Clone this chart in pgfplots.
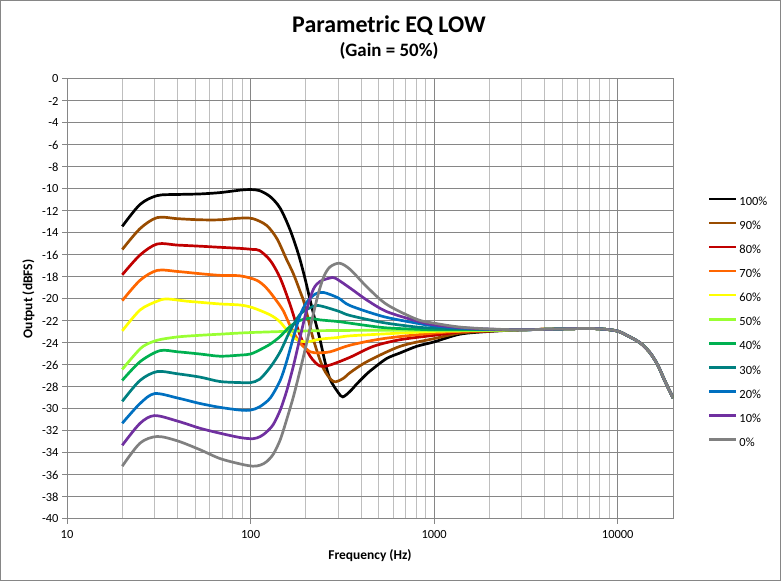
\documentclass[border=0pt]{standalone}
\usepackage{fontspec}
\setmainfont{Carlito}
\usepackage{pgfplots}
\pgfplotsset{compat=1.18}
\definecolor{gridmaj}{RGB}{134,134,134}
\definecolor{gridmin}{RGB}{190,190,190}
\definecolor{c100}{RGB}{0,0,0}
\definecolor{c90}{RGB}{153,76,0}
\definecolor{c80}{RGB}{192,0,0}
\definecolor{c70}{RGB}{255,102,0}
\definecolor{c60}{RGB}{255,255,0}
\definecolor{c50}{RGB}{153,255,51}
\definecolor{c40}{RGB}{0,176,80}
\definecolor{c30}{RGB}{0,128,128}
\definecolor{c20}{RGB}{0,112,192}
\definecolor{c10}{RGB}{112,48,160}
\definecolor{c0}{RGB}{128,128,128}
\begin{document}
\begin{tikzpicture}[x=1bp,y=1bp]
\useasboundingbox (0,0) rectangle (781,581);
\draw[draw=gridmaj, line width=1bp] (0.5,0.5) rectangle (780.5,580.5);
\node[anchor=base, font=\bfseries\fontsize{24}{28}\selectfont] at (389,548) {Parametric EQ LOW};
\node[anchor=base, font=\bfseries\fontsize{19}{22}\selectfont] at (389,524) {(Gain = 50\%)};
\node[anchor=base, font=\bfseries\fontsize{13.5}{16}\selectfont] at (370,21) {Frequency (Hz)};
\node[rotate=90, font=\bfseries\fontsize{13.5}{16}\selectfont] at (28.5,282) {Output (dBFS)};
\begin{axis}[
  at={(67bp,62bp)}, anchor=south west,
  scale only axis, width=606bp, height=440bp,
  xmode=log, xmin=10, xmax=20000, ymin=-40, ymax=0,
  axis line style={draw=gridmaj, line width=1bp, -},
  grid=both,
  major grid style={draw=gridmaj, line width=1bp},
  minor grid style={draw=gridmin, line width=1bp},
  xtick={10,100,1000,10000}, xticklabels={10,100,1000,10000},
  minor xtick={20,30,40,50,60,70,80,90,200,300,400,500,600,700,800,900,2000,3000,4000,5000,6000,7000,8000,9000,20000},
  ytick={-40,-38,-36,-34,-32,-30,-28,-26,-24,-22,-20,-18,-16,-14,-12,-10,-8,-6,-4,-2,0},
  yticklabels={-40,-38,-36,-34,-32,-30,-28,-26,-24,-22,-20,-18,-16,-14,-12,-10,-8,-6,-4,-2,0},
  xtick pos=left, ytick pos=left,
  tick align=outside, major tick length=5bp, minor tick length=0pt,
  every tick/.style={draw=gridmaj, line width=1bp},
  tick label style={font=\fontsize{12.5}{15}\selectfont, text=black},
  xticklabel style={yshift=-3bp},
  every axis plot/.append style={line width=2.7bp, smooth, no markers},
  legend cell align=left,
  legend style={at={(1.0573,0.746)}, anchor=north west, draw=none, fill=none,
    inner sep=0pt, outer sep=0pt, row sep=0pt, font=\fontsize{12.5}{15}\selectfont,
    nodes={inner sep=0pt, text height=15bp, text depth=9.04bp},
    /tikz/every odd column/.append style={column sep=2bp}},
  legend image code/.code={\draw[#1] (0bp,3.8bp) -- (27bp,3.8bp);},
]
\addplot[c100] coordinates {(20,-13.4) (25,-11.4) (31,-10.6) (40,-10.5) (53,-10.45) (68,-10.33) (88,-10.1) (100,-10.05) (112,-10.15) (128,-10.7) (145,-11.75) (164,-13.7) (182,-15.9) (197,-18.0) (211,-20.1) (225,-22.0) (239,-23.7) (255,-25.8) (271,-27.3) (300,-28.5) (318,-28.9) (348,-28.4) (380,-27.7) (430,-26.8) (467,-26.3) (552,-25.4) (653,-24.9) (804,-24.3) (1000,-23.9) (1380,-23.2) (2000,-22.95) (3000,-22.8) (5000,-22.72) (7000,-22.68) (8500,-22.75) (10000,-22.92) (11200,-23.3) (13270,-24.0) (15000,-24.9) (16500,-26.0) (18000,-27.4) (20000,-29.0)};
\addlegendentry{100\%}
\addplot[c90] coordinates {(20,-15.5) (25,-13.6) (31,-12.6) (40,-12.7) (53,-12.8) (68,-12.8) (88,-12.65) (103,-12.7) (122,-13.3) (139,-14.5) (157,-16.4) (171,-17.7) (186,-19.3) (197,-20.5) (220,-23.7) (249,-26.3) (283,-27.5) (321,-27.2) (348,-26.7) (430,-25.7) (653,-24.3) (1000,-23.6) (1380,-23.1) (2000,-22.92) (3000,-22.8) (5000,-22.72) (7000,-22.68) (8500,-22.75) (10000,-22.92) (11200,-23.3) (13270,-24.0) (15000,-24.9) (16500,-26.0) (18000,-27.4) (20000,-29.0)};
\addlegendentry{90\%}
\addplot[c80] coordinates {(20,-17.8) (25,-16.0) (31,-15.0) (40,-15.1) (53,-15.2) (68,-15.3) (88,-15.4) (103,-15.5) (112,-15.6) (128,-16.5) (145,-18.1) (164,-20.5) (186,-23.3) (211,-25.2) (239,-26.1) (271,-26.0) (348,-25.3) (467,-24.3) (653,-23.7) (1000,-23.3) (1380,-23.0) (2000,-22.9) (3000,-22.8) (5000,-22.72) (7000,-22.68) (8500,-22.75) (10000,-22.92) (11200,-23.3) (13270,-24.0) (15000,-24.9) (16500,-26.0) (18000,-27.4) (20000,-29.0)};
\addlegendentry{80\%}
\addplot[c70] coordinates {(20,-20.15) (25,-18.3) (31,-17.4) (40,-17.5) (53,-17.7) (68,-17.85) (88,-17.9) (108,-18.3) (122,-19.0) (139,-20.2) (151,-21.1) (164,-22.4) (186,-24.0) (211,-24.8) (225,-24.9) (271,-24.8) (348,-24.2) (529,-23.6) (1000,-23.1) (1380,-22.95) (2000,-22.88) (3000,-22.8) (5000,-22.72) (7000,-22.68) (8500,-22.75) (10000,-22.92) (11200,-23.3) (13270,-24.0) (15000,-24.9) (16500,-26.0) (18000,-27.4) (20000,-29.0)};
\addlegendentry{70\%}
\addplot[c60] coordinates {(20,-22.9) (25,-21.0) (31,-20.2) (35,-20.0) (45,-20.2) (53,-20.3) (68,-20.45) (88,-20.55) (103,-20.8) (128,-21.45) (145,-22.1) (164,-23.2) (179,-23.7) (202,-23.9) (239,-23.65) (300,-23.5) (348,-23.35) (653,-23.1) (1000,-22.95) (1380,-22.9) (2000,-22.86) (3000,-22.8) (5000,-22.72) (7000,-22.68) (8500,-22.75) (10000,-22.92) (11200,-23.3) (13270,-24.0) (15000,-24.9) (16500,-26.0) (18000,-27.4) (20000,-29.0)};
\addlegendentry{60\%}
\addplot[c50] coordinates {(20,-26.4) (23,-25.2) (26,-24.3) (31,-23.75) (40,-23.45) (53,-23.3) (68,-23.2) (100,-23.05) (200,-22.9) (400,-22.85) (1000,-22.85) (2000,-22.84) (3000,-22.8) (5000,-22.72) (7000,-22.68) (8500,-22.75) (10000,-22.92) (11200,-23.3) (13270,-24.0) (15000,-24.9) (16500,-26.0) (18000,-27.4) (20000,-29.0)};
\addlegendentry{50\%}
\addplot[c40] coordinates {(20,-27.4) (25,-25.7) (32,-24.7) (40,-24.8) (53,-25.0) (68,-25.2) (88,-25.1) (100,-25.0) (113,-24.6) (128,-24.1) (145,-23.4) (164,-22.5) (186,-21.95) (211,-21.75) (239,-21.9) (300,-22.05) (348,-22.2) (529,-22.6) (804,-22.75) (1000,-22.8) (1380,-22.8) (2000,-22.8) (3000,-22.8) (5000,-22.72) (7000,-22.68) (8500,-22.75) (10000,-22.92) (11200,-23.3) (13270,-24.0) (15000,-24.9) (16500,-26.0) (18000,-27.4) (20000,-29.0)};
\addlegendentry{40\%}
\addplot[c30] coordinates {(20,-29.3) (25,-27.4) (31,-26.6) (40,-26.8) (53,-27.1) (68,-27.5) (88,-27.6) (100,-27.6) (112,-27.3) (128,-26.2) (145,-24.8) (164,-22.9) (186,-21.4) (211,-20.8) (235,-20.6) (300,-21.1) (348,-21.5) (529,-22.15) (804,-22.55) (1000,-22.65) (1380,-22.7) (2000,-22.78) (3000,-22.8) (5000,-22.72) (7000,-22.68) (8500,-22.75) (10000,-22.92) (11200,-23.3) (13270,-24.0) (15000,-24.9) (16500,-26.0) (18000,-27.4) (20000,-29.0)};
\addlegendentry{30\%}
\addplot[c20] coordinates {(20,-31.3) (25,-29.5) (30,-28.6) (40,-29.0) (53,-29.5) (68,-29.85) (88,-30.1) (100,-30.1) (112,-29.8) (128,-29.0) (145,-27.4) (157,-25.7) (171,-23.5) (186,-21.5) (202,-20.3) (225,-19.55) (249,-19.4) (300,-19.9) (348,-20.6) (529,-21.6) (804,-22.2) (1000,-22.45) (1380,-22.65) (2000,-22.76) (3000,-22.8) (5000,-22.72) (7000,-22.68) (8500,-22.75) (10000,-22.92) (11200,-23.3) (13270,-24.0) (15000,-24.9) (16500,-26.0) (18000,-27.4) (20000,-29.0)};
\addlegendentry{20\%}
\addplot[c10] coordinates {(20,-33.3) (25,-31.3) (30,-30.6) (40,-31.1) (53,-31.75) (68,-32.2) (88,-32.6) (103,-32.7) (113,-32.5) (122,-32.1) (133,-31.4) (145,-30.1) (157,-28.4) (171,-26.1) (186,-23.5) (202,-21.0) (220,-19.1) (239,-18.4) (270,-18.1) (289,-18.1) (348,-19.0) (430,-20.1) (552,-21.15) (804,-22.0) (1000,-22.35) (1380,-22.6) (2000,-22.74) (3000,-22.8) (5000,-22.72) (7000,-22.68) (8500,-22.75) (10000,-22.92) (11200,-23.3) (13270,-24.0) (15000,-24.9) (16500,-26.0) (18000,-27.4) (20000,-29.0)};
\addlegendentry{10\%}
\addplot[c0] coordinates {(20,-35.2) (25,-33.1) (31,-32.5) (40,-32.9) (53,-33.7) (68,-34.5) (88,-35.0) (103,-35.2) (113,-35.1) (122,-34.8) (133,-34.1) (145,-32.8) (157,-31.0) (171,-28.9) (186,-26.5) (202,-24.0) (218,-21.6) (234,-19.5) (250,-18.0) (270,-17.1) (305,-16.75) (348,-17.3) (430,-18.9) (552,-20.5) (804,-21.85) (1000,-22.2) (1380,-22.55) (2000,-22.72) (3000,-22.8) (5000,-22.72) (7000,-22.68) (8500,-22.75) (10000,-22.92) (11200,-23.3) (13270,-24.0) (15000,-24.9) (16500,-26.0) (18000,-27.4) (20000,-29.0)};
\addlegendentry{0\%}
\end{axis}
\end{tikzpicture}
\end{document}
